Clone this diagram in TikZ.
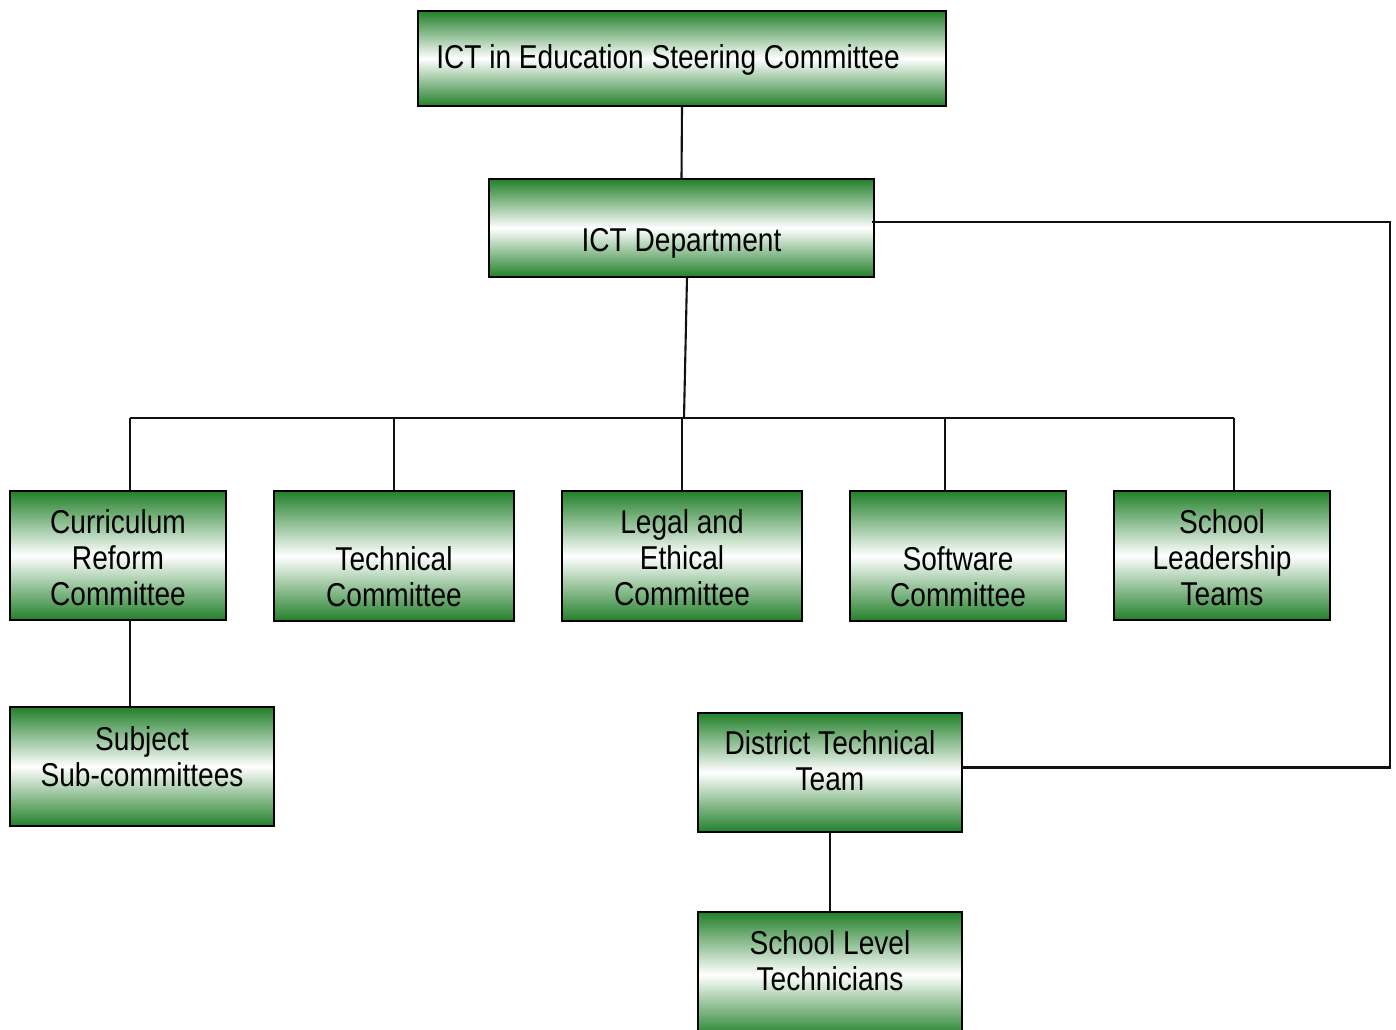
\documentclass[tikz,border=0pt]{standalone}
\usepackage{fontspec}
\setmainfont{Liberation Sans}[FakeStretch=0.85]
\usepackage{tikz}
\usetikzlibrary{positioning, calc}
\definecolor{boxgreen}{HTML}{22802A}
\definecolor{linkgray}{HTML}{111111}

\begin{document}
\begin{tikzpicture}[
    x=0.02cm, y=-0.02cm,
    box/.style={rectangle, draw=black, line width=1.2pt, inner sep=0pt, outer sep=0pt,
        top color=boxgreen, bottom color=boxgreen, middle color=white},
    txt/.style={align=center, inner sep=0pt, font=\fontsize{18.8}{20.5}\selectfont},
    link/.style={draw=linkgray, line width=1.2pt}
]
\useasboundingbox (0,0) rectangle (1396,1030);

% Top level
\node[box, minimum width=10.56cm, minimum height=1.9cm] (steer) at (682,58.5) {};
\node[txt] (steertxt) at ($(steer.center)+(-14,1)$) {ICT in Education Steering Committee};

\node[box, minimum width=7.7cm, minimum height=1.96cm] (dept) at (681.5,228) {};
\node[txt] (depttxt) at ($(dept.center)+(0,15)$) {ICT Department};

% Committees
\node[box, minimum width=4.32cm, minimum height=2.58cm] (cur) at (118,555.5) {};
\node[txt] (curtxt) at ($(cur.center)+(0,2)$) {Curriculum\\Reform\\Committee};

\node[box, minimum width=4.8cm, minimum height=2.6cm] (tech) at (394,556) {};
\node[txt] (techtxt) at ($(tech.center)+(0,21)$) {Technical\\Committee};

\node[box, minimum width=4.8cm, minimum height=2.6cm] (legal) at (682,556) {};
\node[txt] (legaltxt) at ($(legal.center)+(0,2)$) {Legal and\\Ethical\\Committee};

\node[box, minimum width=4.32cm, minimum height=2.6cm] (soft) at (958,556) {};
\node[txt] (softtxt) at ($(soft.center)+(0,21)$) {Software\\Committee};

\node[box, minimum width=4.32cm, minimum height=2.58cm] (lead) at (1222,555.5) {};
\node[txt] (leadtxt) at ($(lead.center)+(0,2)$) {School\\Leadership\\Teams};

% Lower level
\node[box, minimum width=5.28cm, minimum height=2.38cm] (subj) at (142,766.5) {};
\node[txt] (subjtxt) at ($(subj.center)+(0,-10)$) {Subject\\Sub-committees};

\node[box, minimum width=5.28cm, minimum height=2.38cm] (dist) at (830,772.5) {};
\node[txt] (disttxt) at ($(dist.center)+(0,-12)$) {District Technical\\Team};

\node[box, minimum width=5.28cm, minimum height=2.5cm] (lvl) at (830,974.5) {};
\node[txt] (lvltxt) at (830,961) {School Level\\Technicians};

% Connectors
\coordinate (hub) at (684,418);
\coordinate (busL) at (130,418);
\coordinate (busR) at (1234,418);
\coordinate (corner) at (1390,222);

\draw[link] (steer.south) -- (dept.north);
\draw[link] ($(dept.south)+(5.5,0)$) -- (hub);
\draw[link] (busL) -- (busR);
\foreach \n/\x in {cur/130, tech/394, legal/682, soft/945, lead/1234}
    \draw[link] (\x,418) -- (\x,0 |- \n.north);
\draw[link] (130,0 |- cur.south) -- (130,0 |- subj.north);
\draw[link] ($(dept.east)+(-2,-6)$) -- (corner) |- ($(dist.east)+(0,-5)$);
\draw[link] (dist.south) -- (lvl.north);

\end{tikzpicture}
\end{document}
